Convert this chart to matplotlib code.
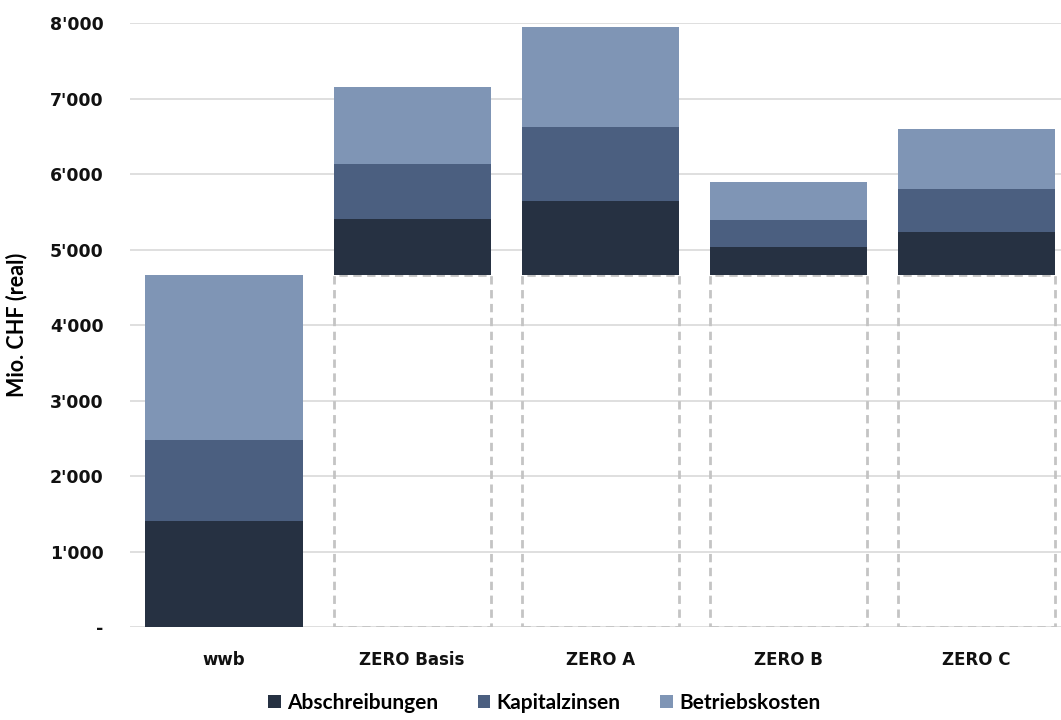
import numpy as np
import matplotlib.pyplot as plt

# Data (Mio. CHF, real)
categories = ["wwb", "ZERO Basis", "ZERO A", "ZERO B", "ZERO C"]
abschreibungen = [1400, 742, 980, 371, 570]
kapitalzinsen = [1075, 728, 981, 358, 569]
betriebskosten = [2187, 1020, 1324, 503, 795]
# ZERO scenarios are drawn on top of the wwb total (dashed box)
base = [0, 4662, 4662, 4662, 4662]

ytick_values = [0, 1000, 2000, 3000, 4000, 5000, 6000, 7000, 8000]
ytick_labels = ["-", "1'000", "2'000", "3'000", "4'000", "5'000", "6'000", "7'000", "8'000"]

series_names = ["Abschreibungen", "Kapitalzinsen", "Betriebskosten"]
colors = ["#263142", "#4b5f80", "#7f95b5"]

fig = plt.figure(figsize=(10.61, 7.2), dpi=100)
ax = fig.add_axes([0.1225, 0.129, 0.8775, 0.839])

x = np.arange(len(categories))
width = 0.835

# dashed boxes showing the wwb baseline under the ZERO bars
for i in range(1, len(categories)):
    ax.bar(x[i], base[i], width=width, bottom=0, fill=False,
           edgecolor="#c4c4c4", linestyle=(0, (3, 2)), linewidth=2, zorder=2)

bottom = np.array(base, dtype=float)
for vals, name, col in zip([abschreibungen, kapitalzinsen, betriebskosten], series_names, colors):
    ax.bar(x, vals, width=width, bottom=bottom, color=col, label=name, zorder=3)
    bottom += np.array(vals)

ax.set_xlim(-0.5, 4.45)
ax.set_ylim(0, 8000)
ax.set_yticks(ytick_values)
ax.set_yticklabels(ytick_labels, fontsize=12.5, fontweight="bold", color="#111111")
ax.set_xticks(x)
ax.set_xticklabels(categories, fontsize=12, fontweight="bold", color="#111111")
ax.tick_params(axis="both", length=0)
ax.tick_params(axis="y", pad=19)
ax.tick_params(axis="x", pad=17)

ax.grid(axis="y", color="#d9d9d9", linewidth=1.2, zorder=0)
ax.set_axisbelow(True)
for s in ax.spines.values():
    s.set_visible(False)

ax.set_ylabel("Mio. CHF (real)", fontsize=15.5, fontweight="bold", family="Lato")
ax.yaxis.set_label_coords(-0.11, 0.5)

leg = fig.legend(loc="lower center", bbox_to_anchor=(0.513, -0.016), ncol=3, frameon=False,
                 prop={"family": "Lato", "weight": "bold", "size": 15},
                 handlelength=0.6, handleheight=0.6, handletextpad=0.3, columnspacing=1.9)

fig.savefig("out.png", dpi=100)
